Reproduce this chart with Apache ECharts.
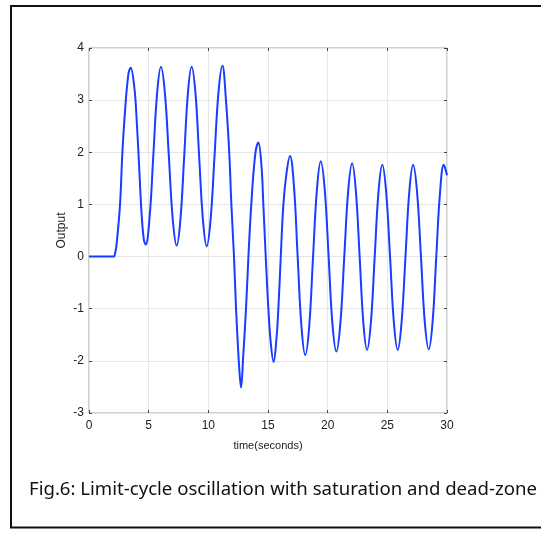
<!DOCTYPE html>
<html>
<head>
<meta charset="utf-8">
<script src="https://cdn.jsdelivr.net/npm/echarts@6/dist/echarts.min.js"></script>
<style>
  html, body { margin: 0; padding: 0; background: #fff; }
  #chart { width: 541px; height: 536px; }
</style>
</head>
<body>
<div id="chart"></div>
<script>
// values
const timeSec = [
  0, 2.04, 2.2, 2.32, 2.6, 2.79, 3.02, 3.3, 3.49,
  3.8, 4.0, 4.22, 4.41, 4.6, 4.75,
  5.07, 5.39, 5.71, 6.03,
  6.36, 6.69, 7.02, 7.35,
  7.66, 7.98, 8.29, 8.6,
  8.92, 9.23, 9.55, 9.86,
  10.19, 10.52, 10.85, 11.18,
  11.48, 11.76, 11.93, 12.15, 12.32, 12.52, 12.64, 12.74,
  12.93, 13.16, 13.36, 13.6, 13.93, 14.19,
  14.45, 14.6, 14.8, 15.03, 15.25, 15.47,
  15.7, 15.87, 16.07, 16.29, 16.55, 16.84,
  17.17, 17.48, 17.8, 18.12,
  18.45, 18.77, 19.1, 19.42,
  19.75, 20.08, 20.4, 20.73,
  21.06, 21.39, 21.72, 22.05,
  22.36, 22.68, 22.99, 23.3,
  23.62, 23.94, 24.26, 24.58,
  24.9, 25.23, 25.55, 25.87,
  26.19, 26.52, 26.84, 27.16,
  27.49, 27.82, 28.14, 28.47,
  28.79, 29.1, 29.42, 29.73,
  30
];
const output = [
  0, 0, 0.08, 0.25, 1.0, 1.96, 2.79, 3.5, 3.62,
  3.24, 2.6, 1.64, 0.81, 0.32, 0.23,
  0.73, 1.935, 3.14, 3.64,
  3.14, 1.93, 0.71, 0.21,
  0.71, 1.93, 3.14, 3.64,
  3.14, 1.92, 0.7, 0.2,
  0.71, 1.93, 3.15, 3.66,
  2.99, 1.96, 1.0, 0, -0.99, -1.88, -2.3, -2.51,
  -1.88, -0.99, 0, 1.0, 1.96, 2.19,
  1.75, 1.05, 0.05, -1.0, -1.7, -2.02,
  -1.6, -0.99, 0, 1.0, 1.6, 1.93,
  1.37, 0.02, -1.33, -1.89,
  -1.35, -0.03, 1.29, 1.83,
  1.3, 0, -1.29, -1.82,
  -1.29, -0.01, 1.26, 1.79,
  1.27, 0, -1.27, -1.79,
  -1.27, -0.01, 1.24, 1.76,
  1.24, -0.01, -1.27, -1.79,
  -1.27, -0.01, 1.24, 1.76,
  1.24, -0.01, -1.26, -1.78,
  -1.26, -0.01, 1.24, 1.76,
  1.56
];
const xRange = [0, 30];
const yRange = [-3, 4];
const caption = 'Fig.6: Limit-cycle oscillation with saturation and dead-zone';

const chart = echarts.init(document.getElementById('chart'));

const tickStyle = () => ({ show: true, inside: true, length: 3, lineStyle: { color: '#444', width: 1 } });
const labelStyle = { color: '#222', fontSize: 12, fontFamily: 'Liberation Sans, Arial, sans-serif' };

chart.setOption({
  animation: false,
  grid: {
    left: 89, top: 48, width: 358, height: 365,
    show: true, borderColor: '#a0a0a0', borderWidth: 1
  },
  xAxis: [
    {
      type: 'value', min: xRange[0], max: xRange[1], interval: 5,
      name: 'time(seconds)', nameLocation: 'middle', nameGap: 27,
      nameTextStyle: { color: '#222', fontSize: 11, fontFamily: 'Liberation Sans, Arial, sans-serif' },
      axisLine: { show: false, onZero: false },
      axisTick: tickStyle(),
      axisLabel: Object.assign({ margin: 7 }, labelStyle),
      splitLine: { show: true, lineStyle: { color: '#e6e6e6', width: 1 } }
    },
    {
      type: 'value', position: 'top', min: xRange[0], max: xRange[1], interval: 5,
      axisLine: { show: false, onZero: false }, axisTick: tickStyle(),
      axisLabel: { show: false }, splitLine: { show: false }
    }
  ],
  yAxis: [
    {
      type: 'value', min: yRange[0], max: yRange[1], interval: 1,
      name: 'Output', nameLocation: 'middle', nameGap: 21, nameRotate: 90,
      nameMoveOverlap: false,
      nameTextStyle: { color: '#222', fontSize: 12, fontFamily: 'Liberation Sans, Arial, sans-serif' },
      axisLine: { show: false, onZero: false },
      axisTick: tickStyle(),
      axisLabel: Object.assign({ margin: 5 }, labelStyle),
      splitLine: { show: true, lineStyle: { color: '#e6e6e6', width: 1 } }
    },
    {
      type: 'value', position: 'right', min: yRange[0], max: yRange[1], interval: 1,
      axisLine: { show: false, onZero: false }, axisTick: tickStyle(),
      axisLabel: { show: false }, splitLine: { show: false }
    }
  ],
  series: [{
    type: 'line',
    data: timeSec.map((t, i) => [t, output[i]]),
    smooth: 0.4,
    showSymbol: false,
    lineStyle: { color: '#1a3cff', width: 2 },
    clip: true
  }],
  graphic: [
    {
      type: 'rect',
      shape: { x: 11, y: 6, width: 545, height: 521.5 },
      style: { fill: null, stroke: '#111', lineWidth: 2 }
    },
    {
      type: 'text', left: 29, top: 480,
      style: { text: caption, fill: '#111', fontSize: 18.6, fontFamily: 'Noto Sans, Open Sans, sans-serif' }
    }
  ]
});
</script>
</body>
</html>
